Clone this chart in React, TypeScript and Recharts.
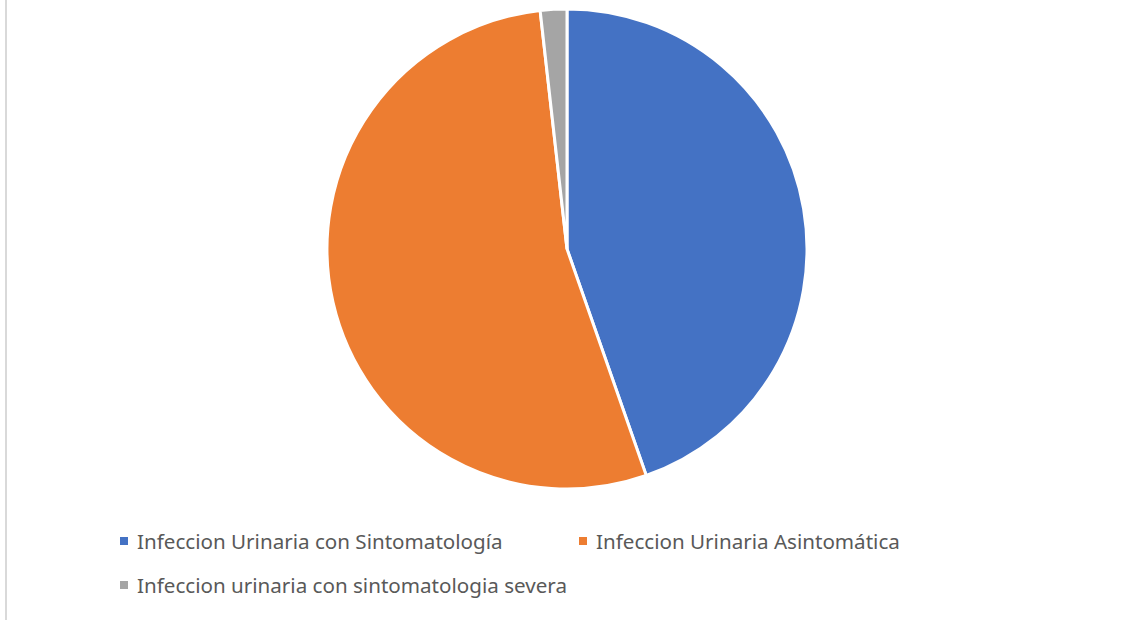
import { PieChart, Pie, Cell, Legend } from 'recharts';

const categories = [
  'Infeccion Urinaria con Sintomatología',
  'Infeccion Urinaria Asintomática',
  'Infeccion urinaria con sintomatologia severa',
];
const counts = [25, 30, 1];
const colors = ['#4472c4', '#ed7d31', '#a5a5a5'];

const data = categories.map((name, i) => ({ name, value: counts[i] }));

// legend laid out in two columns like the spreadsheet export, kept in series order
function LegendBox() {
  const slots = [
    { left: 120, top: 0 },
    { left: 579, top: 0 },
    { left: 120, top: 44 },
  ];
  return (
    <div style={{ position: 'relative', width: 1127, height: 70 }}>
      {categories.map((name, i) => (
        <div
          key={name}
          style={{
            position: 'absolute',
            left: slots[i].left,
            top: slots[i].top,
            display: 'flex',
            alignItems: 'center',
            fontFamily: '"Noto Sans", sans-serif',
            fontSize: 20.6,
            color: '#595959',
            whiteSpace: 'nowrap',
          }}
        >
          <span style={{ width: 8, height: 8, background: colors[i], marginRight: 9, display: 'inline-block' }} />
          {name}
        </div>
      ))}
    </div>
  );
}

export default function App() {
  return (
    <div style={{ position: 'absolute', left: 0, top: 0, width: 1127, height: 620, background: '#fff' }}>
      <div style={{ position: 'absolute', left: 5, top: 0, width: 2, height: 620, background: '#d9d9d9' }} />
      <PieChart width={1127} height={620} margin={{ top: 0, right: 0, bottom: 0, left: 0 }}>
        <Pie
          data={data}
          dataKey="value"
          nameKey="name"
          cx={567}
          cy={249}
          outerRadius={240}
          startAngle={90}
          endAngle={-270}
          stroke="#ffffff"
          strokeWidth={3}
          isAnimationActive={false}
        >
          {data.map((d, i) => (
            <Cell key={d.name} fill={colors[i]} />
          ))}
        </Pie>
        <Legend
          content={<LegendBox />}
          wrapperStyle={{ position: 'absolute', left: 0, top: 527, width: 1127 }}
        />
      </PieChart>
    </div>
  );
}
